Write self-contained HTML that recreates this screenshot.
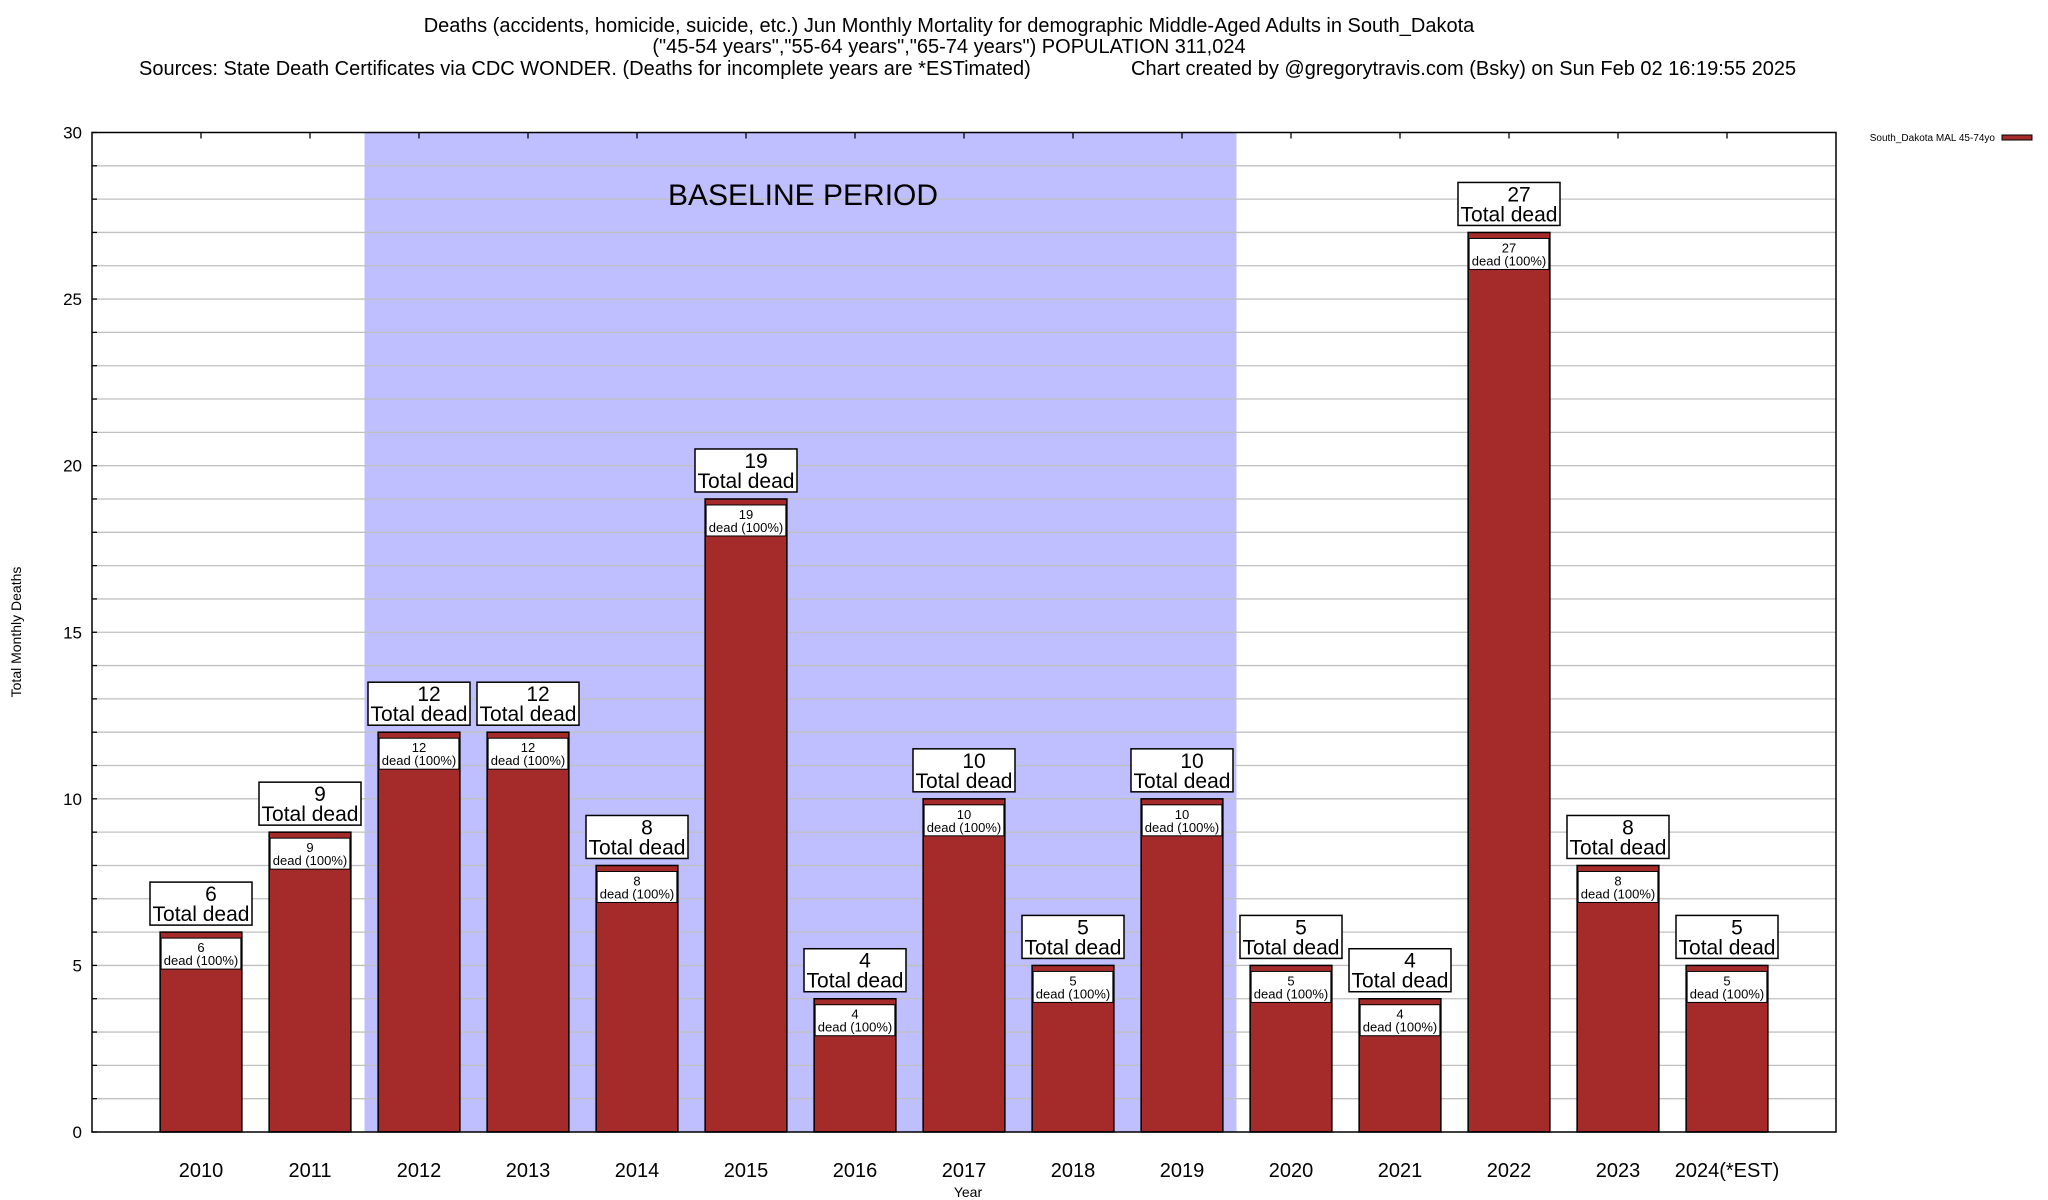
<!DOCTYPE html>
<html><head><meta charset="utf-8"><style>
html,body{margin:0;padding:0;background:#fff;}
svg{display:block;font-family:"Liberation Sans",Arial,sans-serif;}
</style></head><body>
<svg id="chart" width="2048" height="1200" viewBox="0 0 2048 1200">
<g font-size="20" fill="#000">
<text x="949" y="32" text-anchor="middle">Deaths (accidents, homicide, suicide, etc.) Jun Monthly Mortality for demographic Middle-Aged Adults in South_Dakota</text>
<text x="949" y="53" text-anchor="middle">("45-54 years","55-64 years","65-74 years") POPULATION 311,024</text>
<text x="139" y="75">Sources: State Death Certificates via CDC WONDER. (Deaths for incomplete years are *ESTimated)</text>
<text x="1131" y="75">Chart created by @gregorytravis.com (Bsky) on Sun Feb 02 16:19:55 2025</text>
</g>
<g id="plot"></g>
</svg>
<script>
const categories=["2010","2011","2012","2013","2014","2015","2016","2017","2018","2019","2020","2021","2022","2023","2024(*EST)"];
const deaths=[6,9,12,12,8,19,4,10,5,10,5,4,27,8,5];
const yTicks=[0,5,10,15,20,25,30];
const baselineStart=2, baselineEnd=9;
const L=92,R=1836,T=132.5,B=1132,yMax=30;
const xs=i=>L+(i+1)*(R-L)/16;
const ys=v=>B-(v/yMax)*(B-T);
const unit=(R-L)/16;
const NS="http://www.w3.org/2000/svg";
const g=document.getElementById('plot');
function el(tag,attrs,parent,txt){const e=document.createElementNS(NS,tag);for(const k in attrs)e.setAttribute(k,attrs[k]);if(txt!==undefined)e.textContent=txt;(parent||g).appendChild(e);return e;}
let sh=el('rect',{x:xs(baselineStart-0.5),y:T,width:xs(baselineEnd+0.5)-xs(baselineStart-0.5),height:B-T,fill:'#bfbfff'});


for(let v=1;v<yMax;v++){
 let l=el('line',{x1:L,x2:R,y1:ys(v),y2:ys(v),stroke:'#c0c0c0','stroke-width':1.3});
 
 
}
let bt=el('text',{x:803,y:205,'font-size':30,'text-anchor':'middle'},g,'BASELINE PERIOD');


deaths.forEach((d,i)=>{
 const cx=xs(i),w=unit*0.75,x0=cx-w/2;
 let b=el('rect',{x:x0,y:ys(d),width:w,height:B-ys(d),fill:'#a52a2a',stroke:'#000','stroke-width':1.5});
 
 
 let ib=el('rect',{x:x0+1,y:ys(d)+6,width:w-2,height:31,fill:'#fff',stroke:'#000','stroke-width':1});
 
 
 let t1=el('text',{x:cx,y:ys(d)+20,'font-size':13,'text-anchor':'middle'},g,String(d));
 
 
 let t2=el('text',{x:cx,y:ys(d)+33,'font-size':13,'text-anchor':'middle'},g,'dead (100%)');
 
 
 let ob=el('rect',{x:cx-51,y:ys(d)-50,width:102,height:43,fill:'#fff',stroke:'#000','stroke-width':1.5});
 
 
 let o1=el('text',{x:cx+10,y:ys(d)-31,'font-size':21,'text-anchor':'middle'},g,String(d));
 
 
 let o2=el('text',{x:cx,y:ys(d)-11,'font-size':21,'text-anchor':'middle'},g,'Total dead');
 
 
 let xl=el('text',{x:cx,y:1177,'font-size':20,'text-anchor':'middle'},g,categories[i]);
 
 
 let tk=el('line',{x1:cx,x2:cx,y1:T,y2:T+6,stroke:'#000','stroke-width':1.3});
 
 
});
yTicks.forEach(v=>{
 let t=el('text',{x:82,y:ys(v)+6,'font-size':17,'text-anchor':'end'},g,String(v));
 
 
});
for(let v=0;v<=yMax;v++){
 let tk=el('line',{x1:L,x2:L+5,y1:ys(v),y2:ys(v),stroke:'#000','stroke-width':1.3});
 
 
}
let fr=el('rect',{x:L,y:T,width:R-L,height:B-T,fill:'none',stroke:'#000','stroke-width':1.5});


let xt=el('text',{x:968,y:1197,'font-size':14,'text-anchor':'middle'},g,'Year');


let yt=el('text',{x:0,y:0,'font-size':14,'text-anchor':'middle',transform:'translate(21,632) rotate(-90)'},g,'Total Monthly Deaths');


let lg=el('text',{x:1995,y:141,'font-size':10,'text-anchor':'end'},g,'South_Dakota MAL 45-74yo');


let ls=el('rect',{x:2002,y:135,width:30,height:5,fill:'#a52a2a',stroke:'#000','stroke-width':1});


</script>
</body></html>
